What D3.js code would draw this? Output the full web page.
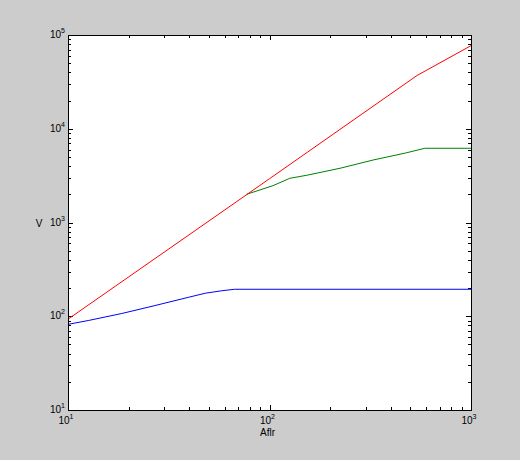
<!DOCTYPE html>
<html>
<head>
<meta charset="utf-8">
<script src="https://cdn.jsdelivr.net/npm/d3@7"></script>
<style>
  body { margin: 0; background: #cccccc; }
  svg { display: block; font-family: "Liberation Sans", Arial, sans-serif; }
</style>
</head>
<body>
<div id="chart"></div>
<script>
// values (Aflr, V)
const redAflr = [10, 100, 540, 1000];
const redV = [93, 2930, 37000, 77000];

const greenAflr = [77, 104, 126, 153, 224, 327, 480, 590, 1000];
const greenV = [2000, 2470, 2960, 3190, 3790, 4640, 5550, 6190, 6190];

const blueAflr = [10, 12.6, 18.5, 27, 39.5, 48, 58, 67, 1000];
const blueV = [82, 90, 107, 130, 159, 176, 187, 194, 194];

const xMajor = [10, 100, 1000];
const yMajor = [10, 100, 1000, 10000, 100000];

const width = 520;
const height = 460;
const plot = {left: 68, right: 471, top: 35, bottom: 410};

const svg = d3.select("#chart").append("svg")
  .attr("width", width)
  .attr("height", height);

svg.append("rect")
  .attr("width", width)
  .attr("height", height)
  .attr("fill", "#cccccc");

const x = d3.scaleLog()
  .domain([10, 1000])
  .range([plot.left, plot.right]);
const y = d3.scaleLog()
  .domain([10, 100000])
  .range([plot.bottom, plot.top]);

svg.append("rect")
  .attr("x", plot.left)
  .attr("y", plot.top)
  .attr("width", plot.right - plot.left)
  .attr("height", plot.bottom - plot.top)
  .attr("fill", "#ffffff");

// minor ticks (2..9 of each decade)
function minors(scale) {
  const [a, b] = scale.domain();
  const out = [];
  for (let d = a; d < b; d *= 10) {
    for (let k = 2; k <= 9; k++) out.push(d * k);
  }
  return out;
}

function drawAxis(axisFn, scale, tx, ty, vals, size) {
  const g = svg.append("g")
    .attr("transform", `translate(${tx},${ty})`)
    .call(axisFn(scale).tickValues(vals).tickSize(size).tickSizeOuter(0).tickFormat(""));
  g.select(".domain").remove();
  g.selectAll("line").attr("stroke", "#000").attr("shape-rendering", "crispEdges");
}

// inside ticks on all four sides
drawAxis(d3.axisBottom, x, 0, plot.bottom, minors(x), -3);
drawAxis(d3.axisBottom, x, 0, plot.bottom, xMajor, -5);
drawAxis(d3.axisTop, x, 0, plot.top, minors(x), -3);
drawAxis(d3.axisTop, x, 0, plot.top, xMajor, -5);
drawAxis(d3.axisLeft, y, plot.left, 0, minors(y), -3);
drawAxis(d3.axisLeft, y, plot.left, 0, yMajor, -5);
drawAxis(d3.axisRight, y, plot.right, 0, minors(y), -3);
drawAxis(d3.axisRight, y, plot.right, 0, yMajor, -5);

// lines
const line = d3.line()
  .x(d => x(d[0]))
  .y(d => y(d[1]));

const series = [
  {a: blueAflr, v: blueV, color: "#0000ff"},
  {a: greenAflr, v: greenV, color: "#008000"},
  {a: redAflr, v: redV, color: "#ff0000"}
];

svg.append("clipPath").attr("id", "clip")
  .append("rect")
  .attr("x", plot.left)
  .attr("y", plot.top)
  .attr("width", plot.right - plot.left)
  .attr("height", plot.bottom - plot.top);

series.forEach(s => {
  svg.append("path")
    .datum(s.a.map((a, i) => [a, s.v[i]]))
    .attr("d", line)
    .attr("fill", "none")
    .attr("stroke", s.color)
    .attr("stroke-width", 1)
    .attr("clip-path", "url(#clip)");
});

// frame
svg.append("rect")
  .attr("x", plot.left + 0.5)
  .attr("y", plot.top + 0.5)
  .attr("width", plot.right - plot.left)
  .attr("height", plot.bottom - plot.top)
  .attr("fill", "none")
  .attr("stroke", "#000")
  .attr("stroke-width", 1);

// tick labels like 10^n
function powLabel(g, v) {
  const t = g.append("text")
    .attr("fill", "#000")
    .attr("font-size", 10);
  t.append("tspan").text("10");
  t.append("tspan")
    .attr("font-size", 7)
    .attr("dy", -5)
    .text(Math.round(Math.log10(v)));
  return t;
}

xMajor.forEach(v => {
  powLabel(svg, v)
    .attr("x", x(v) - 2)
    .attr("y", plot.bottom + 14)
    .attr("text-anchor", "middle");
});

yMajor.forEach(v => {
  powLabel(svg, v)
    .attr("x", plot.left - 3)
    .attr("y", y(v) + 3)
    .attr("text-anchor", "end");
});

svg.append("text")
  .attr("x", (plot.left + plot.right) / 2 - 2)
  .attr("y", plot.bottom + 26)
  .attr("text-anchor", "middle")
  .attr("font-size", 10)
  .text("Aflr");

svg.append("text")
  .attr("x", 39)
  .attr("y", (plot.top + plot.bottom) / 2 + 4)
  .attr("text-anchor", "middle")
  .attr("font-size", 10)
  .text("V");
</script>
</body>
</html>
